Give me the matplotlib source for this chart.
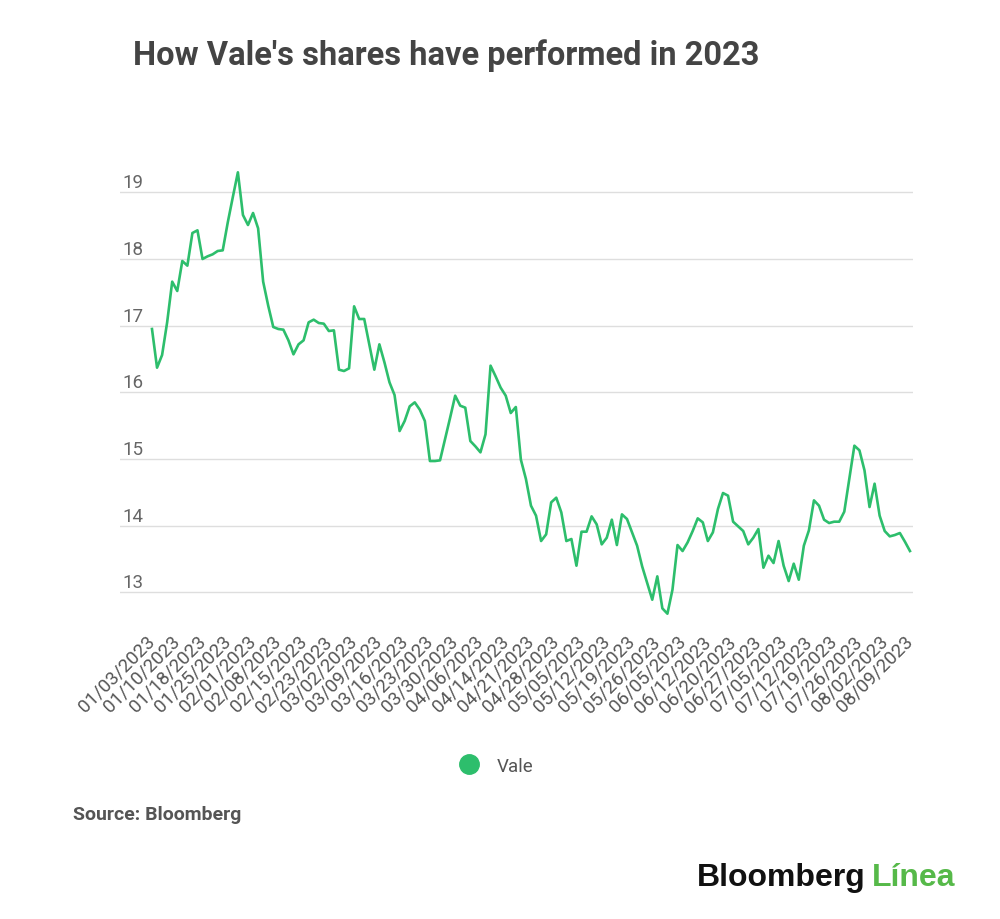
import matplotlib
matplotlib.use('Agg')
from matplotlib import pyplot as plt
from matplotlib.lines import Line2D

plt.rcParams['font.family'] = ['Roboto', 'DejaVu Sans']

# Vale share price, one value per trading day 01/03/2023 .. 08/09/2023
prices = [
    16.95, 16.37, 16.56, 17.05, 17.66, 17.52, 17.97, 17.90, 18.39, 18.43,
    18.00, 18.04, 18.07, 18.12, 18.13, 18.55, 18.93, 19.30, 18.66, 18.51,
    18.69, 18.46, 17.66, 17.30, 16.98, 16.95, 16.94, 16.78, 16.57, 16.72,
    16.78, 17.05, 17.09, 17.04, 17.03, 16.92, 16.93, 16.34, 16.32, 16.36,
    17.29, 17.10, 17.10, 16.72, 16.34, 16.72, 16.45, 16.15, 15.96, 15.42,
    15.57, 15.79, 15.85, 15.74, 15.57, 14.97, 14.97, 14.98, 15.30, 15.62,
    15.95, 15.80, 15.77, 15.27, 15.19, 15.10, 15.37, 16.40, 16.24, 16.07,
    15.95, 15.69, 15.78, 14.99, 14.70, 14.30, 14.15, 13.77, 13.87, 14.35,
    14.42, 14.20, 13.77, 13.80, 13.40, 13.91, 13.91, 14.14, 14.02, 13.72,
    13.82, 14.09, 13.71, 14.17, 14.10, 13.90, 13.70, 13.39, 13.14, 12.89,
    13.24, 12.76, 12.68, 13.04, 13.71, 13.62, 13.75, 13.92, 14.11, 14.05,
    13.77, 13.90, 14.25, 14.49, 14.45, 14.06, 13.99, 13.92, 13.72, 13.82,
    13.95, 13.37, 13.55, 13.44, 13.77, 13.40, 13.17, 13.43, 13.19, 13.70,
    13.93, 14.38, 14.30, 14.09, 14.04, 14.06, 14.06, 14.21, 14.70, 15.20,
    15.13, 14.83, 14.28, 14.63, 14.15, 13.92, 13.84, 13.86, 13.89, 13.76,
    13.62,
]

# every 5th trading day gets a label
date_labels = [
    '01/03/2023', '01/10/2023', '01/18/2023', '01/25/2023', '02/01/2023',
    '02/08/2023', '02/15/2023', '02/23/2023', '03/02/2023', '03/09/2023',
    '03/16/2023', '03/23/2023', '03/30/2023', '04/06/2023', '04/14/2023',
    '04/21/2023', '04/28/2023', '05/05/2023', '05/12/2023', '05/19/2023',
    '05/26/2023', '06/05/2023', '06/12/2023', '06/20/2023', '06/27/2023',
    '07/05/2023', '07/12/2023', '07/19/2023', '07/26/2023', '08/02/2023',
    '08/09/2023',
]
y_ticks = [13, 14, 15, 16, 17, 18, 19]

green = '#2dbe6c'
days = list(range(len(prices)))

fig = plt.figure(figsize=(10, 9.2), dpi=100)
ax = fig.add_axes([0.12, 0.3188, 0.793, 0.5073])

ax.plot(days, prices, color=green, lw=1.9, solid_joinstyle='round')

ax.set_xlim(-6.33, 150.6)
ax.set_ylim(12.5, 19.5)

ax.set_yticks(y_ticks)
ax.set_yticklabels([])
ax.grid(axis='y', color='#dedede', lw=1)
ax.set_axisbelow(True)
ax.tick_params(axis='both', length=0)
for s in ax.spines.values():
    s.set_visible(False)

# y labels sit just above their grid line
for v in y_ticks:
    ax.annotate(str(v), xy=(0, v), xycoords=('axes fraction', 'data'),
                xytext=(2, 5), textcoords='offset pixels',
                ha='left', va='baseline', fontsize=13.5, color='#666666')

ax.set_xticks(days[::5])
ax.set_xticklabels(date_labels, rotation=45, ha='right', va='center',
                   rotation_mode='anchor', fontsize=13.5, color='#555555')
ax.tick_params(axis='x', pad=9)

fig.text(0.133, 1 - 56 / 920, "How Vale's shares have performed in 2023",
         fontsize=23.5, fontweight='bold', color='#444444', va='center')

handle = Line2D([0], [0], marker='o', ls='none', color=green, markersize=14)
fig.legend([handle], ['Vale'], loc='center', bbox_to_anchor=(0.492, 1 - 767 / 920),
           frameon=False, fontsize=13.5, labelcolor='#555555', handletextpad=0.5)

fig.text(0.073, 1 - 815 / 920, 'Source: Bloomberg', fontsize=14,
         fontweight='bold', color='#555555', va='center')

fig.text(0.866, 1 - 878 / 920, 'Bloomberg', fontsize=23, fontweight='bold',
         color='#111111', ha='right', va='center', family='Liberation Sans')
fig.text(0.955, 1 - 878 / 920, 'Línea', fontsize=23, fontweight='bold',
         color='#56b949', ha='right', va='center', family='Liberation Sans')

fig.savefig('out.png', dpi=100)
